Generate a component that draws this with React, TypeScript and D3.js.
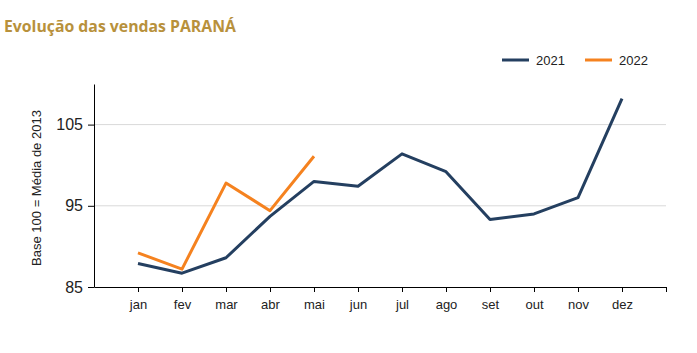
import React, { useEffect, useRef } from "react";
import * as d3 from "d3";

const months = ["jan", "fev", "mar", "abr", "mai", "jun", "jul", "ago", "set", "out", "nov", "dez"];
const vendas2021 = [87.9, 86.7, 88.6, 93.7, 98.0, 97.4, 101.4, 99.2, 93.3, 94.0, 96.0, 108.2];
const vendas2022 = [89.2, 87.2, 97.8, 94.4, 101.1];
const yTicks = [85, 95, 105];

export default function App() {
  const ref = useRef<SVGSVGElement>(null);

  useEffect(() => {
    const svg = d3.select(ref.current);
    svg.selectAll("*").remove();

    const left = 94, right = 666, top = 84, bottom = 287;

    var x = d3.scaleLinear().domain([0, 13]).range([left, right]);
    var y = d3.scaleLinear().domain([85, 110]).range([bottom, top]);

    // title
    svg.append("text")
      .attr("x", 4).attr("y", 32)
      .attr("font-family", "Open Sans, sans-serif")
      .attr("font-weight", "bold")
      .attr("font-size", 15.8)
      .attr("fill", "#b8913c")
      .text("Evolução das vendas PARANÁ");

    // grid
    svg.append("g").selectAll("line")
      .data(yTicks.slice(1))
      .enter().append("line")
      .attr("x1", left).attr("x2", right)
      .attr("y1", d => y(d)).attr("y2", d => y(d))
      .attr("stroke", "#d9d9d9").attr("stroke-width", 1);

    // y axis
    const yAxis = svg.append("g")
      .attr("transform", "translate(" + left + ",0)")
      .call(d3.axisLeft(y).tickValues(yTicks).tickSize(6).tickSizeOuter(0));
    yAxis.select(".domain").attr("stroke", "#000");
    yAxis.selectAll("text")
      .attr("font-family", "Liberation Sans, Arial, sans-serif")
      .attr("font-size", 16).attr("fill", "#222").attr("dx", -2);

    // x axis
    const xAxis = svg.append("g")
      .attr("transform", "translate(0," + bottom + ")")
      .call(d3.axisBottom(x).tickValues(d3.range(1, 14)).tickSize(5).tickSizeOuter(0)
        .tickFormat((d: any) => (months[d - 1] || "")));
    xAxis.select(".domain").attr("stroke", "#000");
    xAxis.selectAll("text")
      .attr("font-family", "Liberation Sans, Arial, sans-serif")
      .attr("font-size", 13).attr("fill", "#222").attr("dy", "1.1em");

    // y label
    svg.append("text")
      .attr("transform", "translate(41,188) rotate(-90)")
      .attr("text-anchor", "middle")
      .attr("font-family", "Liberation Sans, Arial, sans-serif")
      .attr("font-size", 13).attr("fill", "#222")
      .text("Base 100 = Média de 2013");

    const line = d3.line<number>()
      .x((d, i) => x(i + 1))
      .y(d => y(d));

    svg.append("path").datum(vendas2021)
      .attr("d", line).attr("fill", "none")
      .attr("stroke", "#243f60").attr("stroke-width", 3).attr("stroke-linejoin", "round");

    svg.append("path").datum(vendas2022)
      .attr("d", line).attr("fill", "none")
      .attr("stroke", "#f5821f").attr("stroke-width", 3).attr("stroke-linejoin", "round");

    // legend
    const legend = [
      { name: "2021", color: "#243f60", x: 502 },
      { name: "2022", color: "#f5821f", x: 585 },
    ];
    const lg = svg.append("g").selectAll("g").data(legend).enter().append("g");
    lg.append("line")
      .attr("x1", d => d.x).attr("x2", d => d.x + 27)
      .attr("y1", 60).attr("y2", 60)
      .attr("stroke", d => d.color).attr("stroke-width", 3);
    lg.append("text")
      .attr("x", d => d.x + 34).attr("y", 65)
      .attr("font-family", "Liberation Sans, Arial, sans-serif")
      .attr("font-size", 13).attr("fill", "#222")
      .text(d => d.name);
  }, []);

  return (
    <svg ref={ref} width={697} height={353}
      style={{ position: "absolute", left: 0, top: 0, background: "#fff" }} />
  );
}
